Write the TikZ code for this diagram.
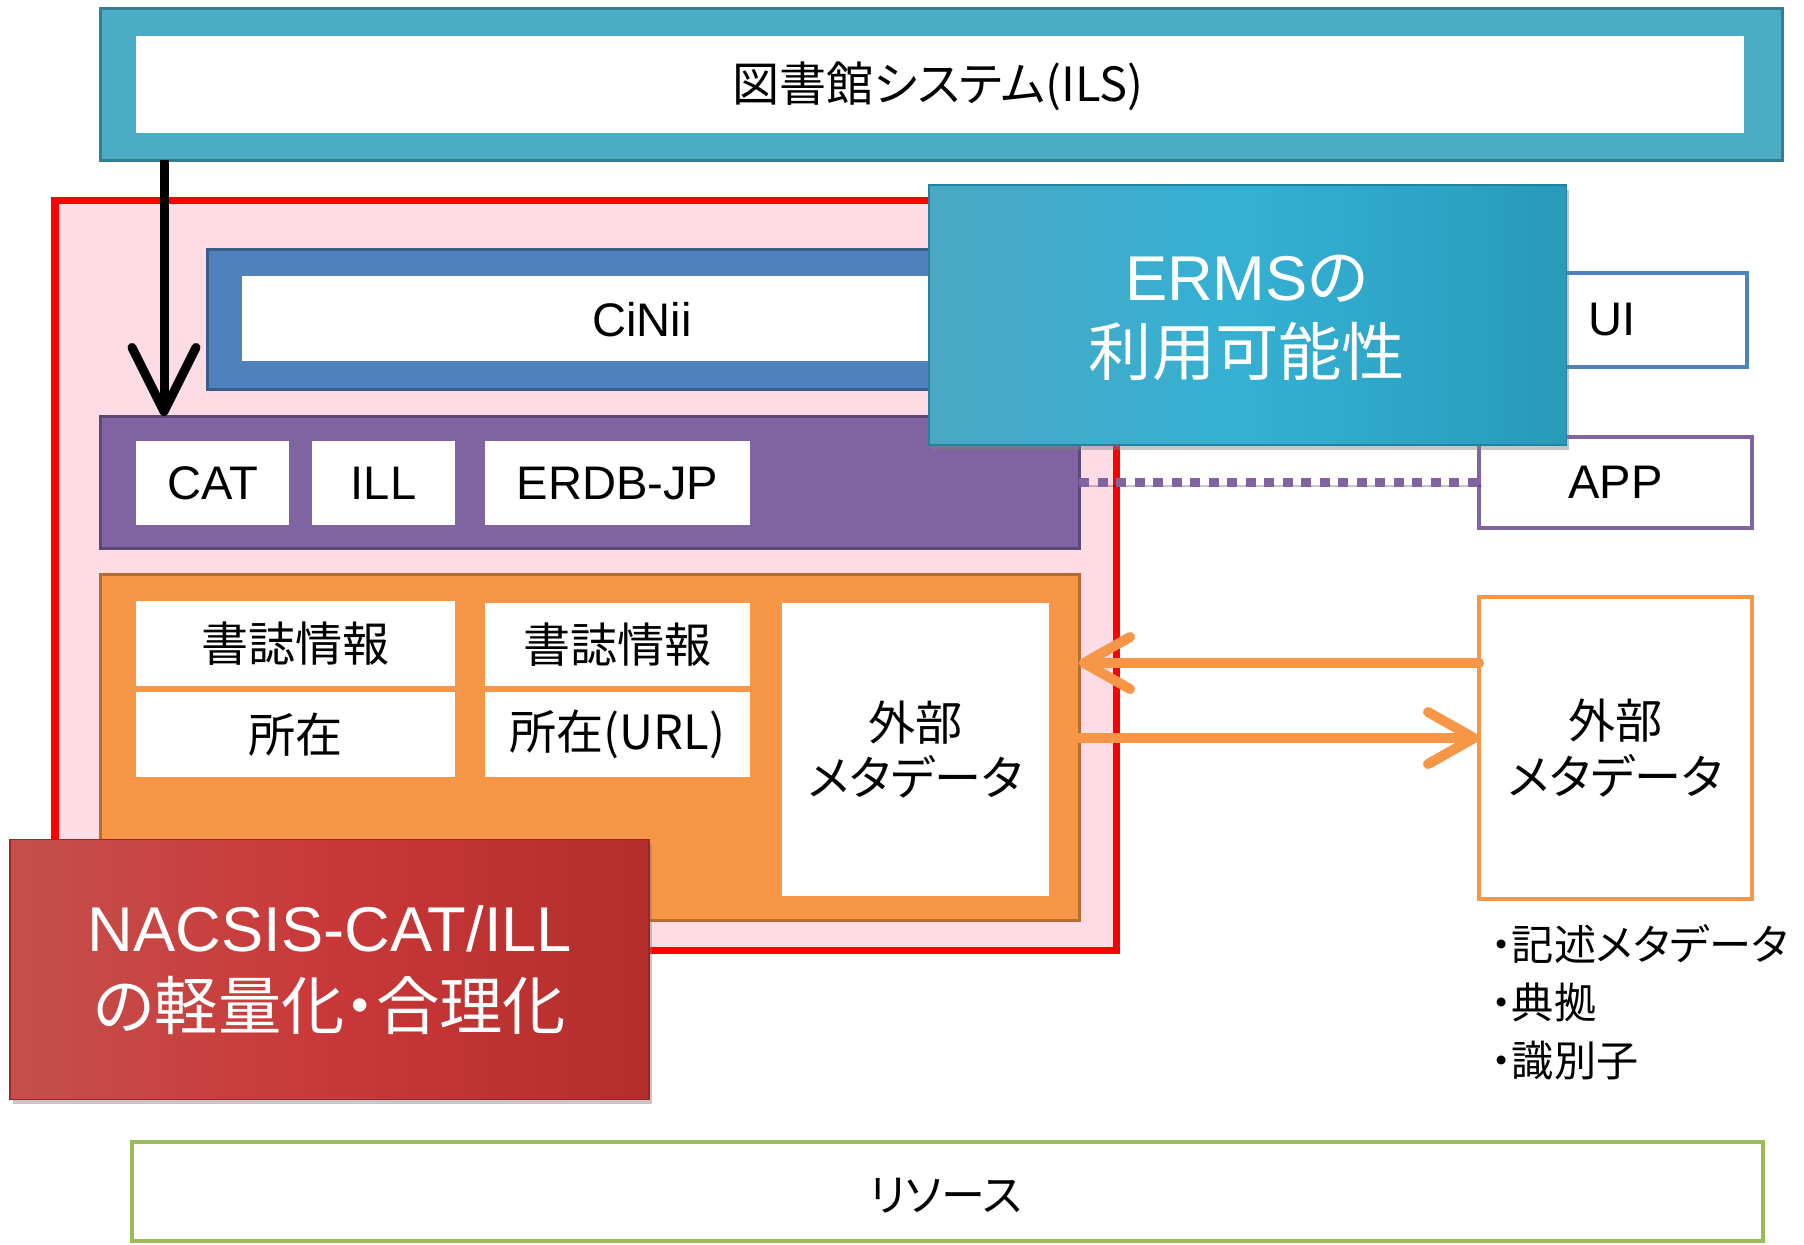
\documentclass[tikz,border=0pt]{standalone}
\usepackage{fontspec}
\setmainfont{Liberation Sans}
\newfontfamily\jp[RawFeature=+palt]{Noto Sans CJK JP}
\usetikzlibrary{fit,shadows,arrows.meta,calc}
\definecolor{ilsteal}{HTML}{4BACC6}
\definecolor{ilsdark}{HTML}{357D91}
\definecolor{ciniiblue}{HTML}{4F81BD}
\definecolor{ciniidark}{HTML}{385D8A}
\definecolor{natpurple}{HTML}{8064A2}
\definecolor{purpledark}{HTML}{5C4776}
\definecolor{natorange}{HTML}{F79646}
\definecolor{orangedark}{HTML}{B66D31}
\definecolor{pinkfill}{HTML}{FEDCE6}
\definecolor{resgreen}{HTML}{9BBB59}
\definecolor{ermsA}{HTML}{4AA8C4}
\definecolor{ermsB}{HTML}{34B0D3}
\definecolor{ermsC}{HTML}{289ABA}
\definecolor{nacA}{HTML}{C5504B}
\definecolor{nacB}{HTML}{C93838}
\definecolor{nacC}{HTML}{B32E2B}
\begin{document}
\begin{tikzpicture}[x=0.01cm,y=-0.01cm,
  frame/.style={inner sep=0pt, outer sep=0pt},
  wbox/.style={frame, fill=white},
  thickframe/.style={frame, line width=0.03cm},
  thinbox/.style={frame, fill=white, line width=0.045cm},
  lat/.style={font=\fontsize{13.4pt}{16pt}\selectfont},
  jpl/.style={font=\jp\fontsize{13.4pt}{15.9pt}\selectfont, align=center},
  bigw/.style={text=white, align=center},
  softshadow/.style={preaction={draw=black, opacity=0.22, transform canvas={shift={(0.025cm,-0.035cm)}}}},
  orangearrow/.style={draw=natorange, line width=0.1cm, line cap=round,
     -{Straight Barb[length=0.46cm,width=0.52cm,round]}, softshadow},
]
\useasboundingbox (0,0) rectangle (1804,1244);

% pink / red container
\node[frame, fit={(55,200)(1116,950)}, fill=pinkfill, draw=red, line width=0.07cm] (pink) {};

% ILS
\node[thickframe, fit={(100,8)(1782,160)}, fill=ilsteal, draw=ilsdark] (ils) {};
\node[wbox, fit={(136,36)(1744,133)}] (ilsin) {};
\node[jpl] (ilstxt) at (938,86) {図書館システム(ILS)};

% CiNii
\node[thickframe, fit={(207,249)(1100,389)}, fill=ciniiblue, draw=ciniidark] (cinii) {};
\node[wbox, fit={(242,276)(1060,361)}] (ciniiin) {};
\node[lat] (ciniitxt) at (642,320) {CiNii};

% purple row
\node[thickframe, fit={(100,416)(1079,548)}, fill=natpurple, draw=purpledark] (purple) {};
\node[wbox, fit={(136,441)(289,525)}] (cat) {};
\node[lat] (cattxt) at (cat) {CAT};
\node[wbox, fit={(312,441)(455,525)}] (ill) {};
\node[lat] (illtxt) at (ill) {ILL};
\node[wbox, fit={(485,441)(750,525)}] (erdb) {};
\node[lat] (erdbtxt) at (erdb) {ERDB-JP};

% orange block
\node[thickframe, fit={(100,574)(1079,920)}, fill=natorange, draw=orangedark] (orange) {};
\node[wbox, fit={(136,601)(455,686)}] (bib1) {};
\node[jpl] (bib1txt) at (bib1) {書誌情報};
\node[wbox, fit={(136,692)(455,777)}] (loc1) {};
\node[jpl] (loc1txt) at (loc1) {所在};
\node[wbox, fit={(485,603)(750,686)}] (bib2) {};
\node[jpl] (bib2txt) at (bib2) {書誌情報};
\node[wbox, fit={(485,692)(750,777)}] (loc2) {};
\node[jpl] (loc2txt) at (loc2) {所在(URL)};
\node[wbox, fit={(782,603)(1049,896)}] (extin) {};
\node[jpl] (extintxt) at (extin) {外部\\メタデータ};

% right side boxes
\node[thinbox, fit={(1500,273)(1747,367)}, draw=ciniiblue] (ui) {};
\node[lat] (uitxt) at (1612,320) {UI};
\node[thinbox, fit={(1479,437)(1752,528)}, draw=natpurple] (app) {};
\node[lat] (apptxt) at (app) {APP};
\node[thinbox, fit={(1479,597)(1752,899)}, draw=natorange] (ext) {};
\node[jpl] (exttxt) at (ext) {外部\\メタデータ};

% ERMS highlight
\node[frame, fit={(929,185)(1566,445)}, left color=ermsA, right color=ermsC, middle color=ermsB,
      draw=ermsC!85!black, line width=0.3pt,
      drop shadow={shadow xshift=0.03cm, shadow yshift=-0.05cm, opacity=0.45}] (erms) {};
\node[bigw, font=\fontsize{18pt}{21.3pt}\selectfont] (ermstxt) at (1247,318) {ERMS{\jp の}\\{\jp 利用可能性}};

% NACSIS highlight
\node[frame, fit={(10,839)(649,1099)}, left color=nacA, right color=nacC, middle color=nacB,
      draw=nacC!85!black, line width=0.3pt,
      drop shadow={shadow xshift=0.03cm, shadow yshift=-0.05cm, opacity=0.45}] (nacsis) {};
\node[bigw, font=\fontsize{18pt}{22.2pt}\selectfont] (nacsistxt) at (330,970) {NACSIS-CAT/ILL\\{\jp の軽量化・合理化}};

% connectors
\coordinate (ax) at (164,0);
\draw[line width=0.09cm, -{Straight Barb[length=0.64cm,width=0.64cm,round]}]
  (ils.south -| ax) -- (purple.north -| ax);
\draw[draw=natpurple, line width=0.09cm, dash pattern=on 0.1cm off 0.085cm, softshadow]
  (purple.east |- app.west) -- (app.west);
\coordinate (a1) at (0,663);
\coordinate (a2) at (0,738);
\draw[orangearrow] (ext.west |- a1) -- (orange.east |- a1);
\draw[orangearrow] (orange.east |- a2) -- (ext.west |- a2);

% bullet notes
\node[anchor=west, align=left, font=\jp\fontsize{12pt}{16.5pt}\selectfont, inner sep=0pt] (notes) at (1490,1002)
  {・記述メタデータ\\・典拠\\・識別子};

% resources
\node[thinbox, fit={(132,1142)(1763,1241)}, draw=resgreen] (res) {};
\node[font=\jp\fontsize{12.5pt}{15pt}\selectfont] (restxt) at (946,1196) {リソース};
\end{tikzpicture}
\end{document}
